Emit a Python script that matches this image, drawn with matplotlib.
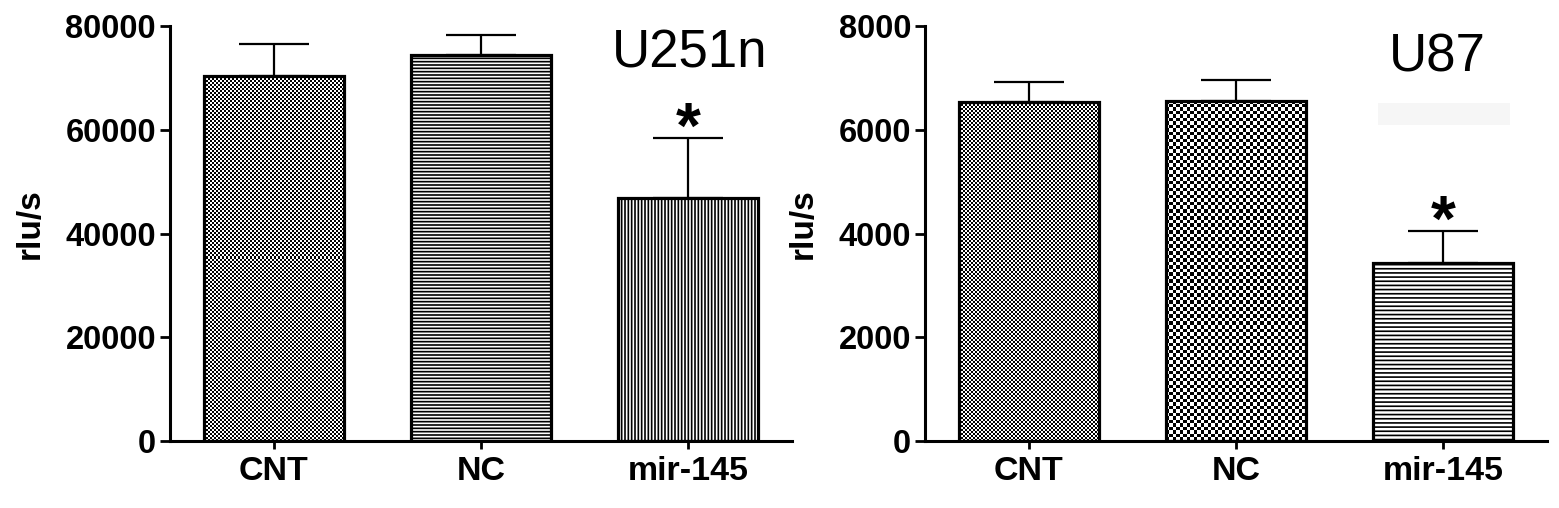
import numpy as np
import matplotlib
matplotlib.use("Agg")
import matplotlib.pyplot as plt
from matplotlib.patches import Rectangle

categories = ["CNT", "NC", "mir-145"]
u251_mean = [70300, 74500, 46900]
u251_err = [6200, 3800, 11600]
u87_mean = [6530, 6560, 3440]
u87_err = [400, 400, 610]
u251_ticks = [0, 20000, 40000, 60000, 80000]
u87_ticks = [0, 2000, 4000, 6000, 8000]

plt.rcParams['font.family'] = ['Liberation Sans', 'DejaVu Sans']
plt.rcParams['hatch.linewidth'] = 1.2
plt.rcParams['hatch.color'] = 'black'

fig = plt.figure(figsize=(15.59, 5.08), dpi=100)
axL = fig.add_axes([0.109, 0.1319, 0.399, 0.8169])
axR = fig.add_axes([0.5933, 0.1319, 0.399, 0.8169])


def checker_fill(ax, bar, cell_px):
    x0, y0 = bar.get_x(), bar.get_y()
    x1, y1 = x0 + bar.get_width(), y0 + bar.get_height()
    p0 = ax.transData.transform((x0, y0))
    p1 = ax.transData.transform((x1, y1))
    nx = max(1, int(round(abs(p1[0] - p0[0]) / cell_px)))
    ny = max(1, int(round(abs(p1[1] - p0[1]) / cell_px)))
    ii, jj = np.indices((ny, nx))
    arr = ((ii + jj) % 2).astype(float)
    im = ax.imshow(arr, extent=(x0, x1, y0, y1), cmap='gray', vmin=0, vmax=1,
                   interpolation='nearest', aspect='auto', origin='lower', zorder=1.5)
    im.set_clip_path(bar)


def panel(ax, means, errs, ticks, ymax, fills, title, title_xy, star_off):
    x = np.arange(len(categories))
    ax.set_xlim(-0.5, 2.5)
    ax.set_ylim(0, ymax)
    bars = ax.bar(x, means, width=0.675, facecolor='white', edgecolor='black',
                  linewidth=2.3, zorder=2)
    for b, f in zip(bars, fills):
        if f[0] == 'checker':
            b.set_facecolor('none')
            checker_fill(ax, b, f[1])
        else:
            b.set_hatch(f[1])
    ax.errorbar(x, means, yerr=[np.zeros(len(errs)), errs], fmt='none', ecolor='black',
                elinewidth=1.6, capsize=25, capthick=1.6, zorder=1)
    ax.set_xlim(-0.5, 2.5)
    ax.set_ylim(0, ymax)
    for s in ['top', 'right']:
        ax.spines[s].set_visible(False)
    for s in ['left', 'bottom']:
        ax.spines[s].set_linewidth(2.2)
    ax.set_yticks(ticks)
    ax.set_yticklabels([str(t) for t in ticks], fontsize=23.5, fontweight='bold')
    ax.set_xticks(x)
    ax.set_xticklabels(categories, fontsize=24.5, fontweight='bold')
    ax.tick_params(axis='y', length=7, width=2, pad=3)
    ax.tick_params(axis='x', length=6, width=2, pad=5)
    ax.set_ylabel('rlu/s', fontsize=24, fontweight='bold', labelpad=14)
    ax.yaxis.set_label_coords(ax.yaxis.label.get_position()[0], 0.52)
    ax.yaxis.set_label_coords(-0.2 if ymax > 10000 else -0.17, 0.525)
    ax.text(title_xy[0], title_xy[1], title, transform=ax.transAxes, fontsize=38,
            ha='left', va='top')
    ax.text(2, means[2] + errs[2] + star_off, '*', ha='center', va='center',
            fontsize=46, fontweight='bold')


panel(axL, u251_mean, u251_err, u251_ticks, 80000,
      [('checker', 2.0), ('hatch', '-----'), ('hatch', '|||||')],
      'U251n', (0.71, 0.995), 1300)
panel(axR, u87_mean, u87_err, u87_ticks, 8000,
      [('checker', 2.0), ('checker', 3.5), ('hatch', '----')],
      'U87', (0.745, 0.985), 130)

fig.patches.append(Rectangle((1378 / 1559, 1 - 125 / 508), 132 / 1559, 22 / 508,
                             transform=fig.transFigure, facecolor='#f6f6f6',
                             edgecolor='none', zorder=0))

fig.savefig('out.png', dpi=100)
